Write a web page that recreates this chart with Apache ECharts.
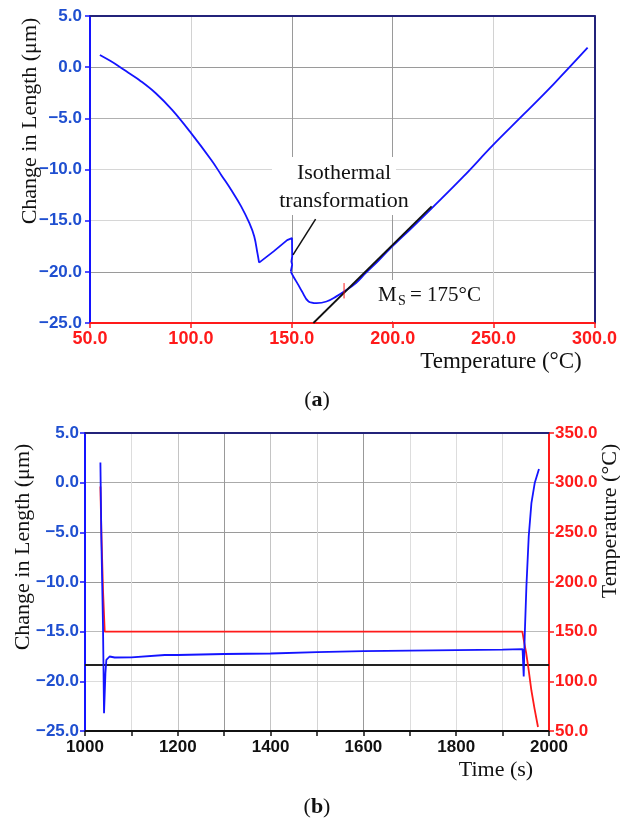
<!DOCTYPE html>
<html>
<head>
<meta charset="utf-8">
<script src="https://cdn.jsdelivr.net/npm/echarts@6/dist/echarts.min.js"></script>
<style>
html,body{margin:0;padding:0;background:#fff;}
#main{width:620px;height:821px;}
</style>
</head>
<body>
<div id="main"></div>
<script>
// (a) dilatometer curve: temperature vs change in length
var tempA = [54.9, 60, 64.6, 70, 74.4, 82.6, 90.7, 100.1, 110.2, 115.1, 120, 124.9, 129, 131.4, 133, 133.8, 141, 147.7, 150.1, 150.2, 149.8, 150.2, 149.5, 150.9, 153, 155, 158.3, 162.3, 167.2, 172.1, 176.1, 181.8, 186.7, 193, 198.1, 210, 219.3, 235, 249.8, 265, 280, 296.6];
var lenA = [1.19, 0.62, 0.05, -0.67, -1.25, -2.55, -4.18, -6.45, -9.1, -10.55, -12.0, -13.6, -15.25, -16.55, -18.2, -19.1, -18.0, -16.9, -16.7, -18.5, -19.0, -19.3, -19.97, -20.5, -21.2, -21.9, -22.9, -23.06, -22.9, -22.4, -21.9, -21.1, -20.1, -18.9, -17.85, -15.6, -13.8, -10.7, -7.6, -4.6, -1.6, 1.9];
// tangent line, leader line, Ms marker
var tanT = [160.7, 219.3];
var tanL = [-25, -13.6];
var leadT = [150.6, 161.8];
var leadL = [-18.35, -14.85];
var msT = [175.9, 175.9];
var msL = [-21.1, -22.6];

// (b) time series
var timeB = [1033.2, 1035.3, 1038.8, 1041, 1044, 1046, 1053, 1064, 1100, 1172, 1200, 1300, 1400, 1500, 1600, 1700, 1800, 1900, 1943, 1944.5, 1945.5, 1947.6, 1951.3, 1956.3, 1962.1, 1969.2, 1978.4];
var lenB = [2.04, -5.75, -14.5, -23.2, -19.2, -17.85, -17.5, -17.6, -17.58, -17.35, -17.35, -17.25, -17.2, -17.05, -16.95, -16.9, -16.85, -16.8, -16.75, -16.8, -19.5, -15.5, -10.46, -5.42, -2.06, -0.04, 1.37];
var timeR = [1033.2, 1035.3, 1038.8, 1042.5, 1100, 1500, 1942.6, 1947, 1951, 1956, 1962, 1969, 1976.3];
var tempR = [296.2, 249.2, 192, 150, 150, 150, 150, 138, 128, 112, 91, 72, 54];
var hT = [1000, 2000];
var hL = [-18.36, -18.36];

function zip(a, b, from, to){
	var out = [];
	from = from || 0;
	to = (to == null) ? a.length - 1 : to;
	for (var i = from; i <= to; i++) out.push([a[i], b[i]]);
	return out;
}
function fmt1(v){
	var s = v.toFixed(1);
	return s.charAt(0) == '-' ? '\u2212' + s.slice(1) : s;
}

var BLUE = '#1414ff', RED = '#ff1a1a', NAVY = '#23237a';
var LBLUE = '#1f4fd0';
var sans = '"Liberation Sans", Arial, sans-serif';
var serif = '"Liberation Serif", "Times New Roman", serif';

function lbl(color, size, margin, f){
	return {color:color, fontFamily:sans, fontWeight:'bold', fontSize:size, margin:margin, formatter:f};
}
function frame(gi, pos, mn, mx){
	return {gridIndex:gi, type:'value', position:pos, min:mn, max:mx,
		axisLine:{onZero:false, lineStyle:{color:NAVY, width:2}},
		axisTick:{show:false}, axisLabel:{show:false}, splitLine:{show:false}};
}
function txt(x, y, s, font, extra){
	var el = {type:'text', x:x, y:y, silent:true, z:10,
		style:{text:s, font:font, fill:'#111', align:'center', verticalAlign:'middle',
			textAlign:'center', textVerticalAlign:'middle'}};
	if (extra) for (var k in extra) el[k] = extra[k];
	return el;
}
function ln(name, xi, yi, data, color, w, smooth){
	return {name:name, type:'line', xAxisIndex:xi, yAxisIndex:yi, data:data, showSymbol:false,
		smooth:smooth || false, silent:true, animation:false,
		lineStyle:{color:color, width:w}, itemStyle:{color:color}, z:3};
}

var chart = echarts.init(document.getElementById('main'), null, {renderer:'canvas'});
var option = {
	backgroundColor:'#fff',
	animation:false,
	grid:[
		{left:90, top:16, width:512, height:307},
		{left:85, top:433, width:464, height:298}
	],
	xAxis:[
		{gridIndex:0, type:'value', min:50, max:300, interval:50,
			axisLine:{onZero:false, lineStyle:{color:RED, width:2}},
			axisTick:{show:true, length:5, lineStyle:{color:RED, width:1.5}},
			axisLabel:lbl(RED, 18, 7, fmt1),
			splitLine:{show:true, lineStyle:{width:1, color:['#ddd','#d2d2d2','#9a9a9a','#9a9a9a','#d2d2d2','#ddd']}}},
		frame(0, 'top', 50, 300),
		{gridIndex:1, type:'value', min:1000, max:2000, interval:100,
			axisLine:{onZero:false, lineStyle:{color:'#111', width:2}},
			axisTick:{show:true, length:5, lineStyle:{color:'#111', width:1.5}},
			axisLabel:lbl('#111', 17, 8, function(v){ return v % 200 == 0 ? String(v) : ''; }),
			splitLine:{show:true, lineStyle:{width:1, color:['#ddd','#ddd','#c4c4c4','#999','#c4c4c4','#d4d4d4','#999','#ddd','#ddd','#ddd','#ddd']}}},
		frame(1, 'top', 1000, 2000)
	],
	yAxis:[
		{gridIndex:0, type:'value', min:-25, max:5, interval:5,
			axisLine:{onZero:false, lineStyle:{color:BLUE, width:2}},
			axisTick:{show:true, length:5, lineStyle:{color:BLUE, width:1.5}},
			axisLabel:lbl(LBLUE, 17, 8, fmt1),
			splitLine:{show:true, lineStyle:{width:1, color:['#ddd','#9a9a9a','#d6d6d6','#d6d6d6','#b0b0b0','#9a9a9a','#ddd']}}},
		frame(0, 'right', -25, 5),
		{gridIndex:1, type:'value', min:-25, max:5, interval:5,
			axisLine:{onZero:false, lineStyle:{color:BLUE, width:2}},
			axisTick:{show:true, length:5, lineStyle:{color:BLUE, width:1.5}},
			axisLabel:lbl(LBLUE, 17, 6, fmt1),
			splitLine:{show:true, lineStyle:{width:1, color:['#ddd','#dcdcdc','#bbb','#9a9a9a','#9a9a9a','#aaa','#ddd']}}},
		{gridIndex:1, type:'value', position:'right', min:50, max:350, interval:50,
			axisLine:{onZero:false, lineStyle:{color:RED, width:2}},
			axisTick:{show:true, length:5, lineStyle:{color:RED, width:1.5}},
			axisLabel:lbl(RED, 17, 6, fmt1),
			splitLine:{show:false}}
	],
	series:[
		// the cooling curve is drawn in three pieces so the cusp and the isothermal drop stay sharp
		ln('lenA1', 0, 0, zip(tempA, lenA, 0, 15), BLUE, 1.8, 0.4),
		ln('lenA2', 0, 0, zip(tempA, lenA, 15, 22), BLUE, 1.8),
		ln('lenA3', 0, 0, zip(tempA, lenA, 22), BLUE, 1.8, 0.4),
		ln('tangent', 0, 0, zip(tanT, tanL), '#111', 1.8),
		ln('leader', 0, 0, zip(leadT, leadL), '#111', 1.5),
		ln('ms', 0, 0, zip(msT, msL), RED, 1),
		ln('hline', 2, 2, zip(hT, hL), '#222', 2),
		ln('tempB', 2, 3, zip(timeR, tempR), RED, 1.8),
		ln('lenB', 2, 2, zip(timeB, lenB), BLUE, 1.8)
	],
	graphic:[
		// white boxes behind the annotations hide the grid lines, as in the original
		{type:'rect', silent:true, z:5, shape:{x:272, y:157, width:124, height:58}, style:{fill:'#fff'}},
		{type:'rect', silent:true, z:5, shape:{x:376, y:280, width:108, height:41}, style:{fill:'#fff'}},
		txt(30, 121, 'Change in Length (\u03bcm)', '22px ' + serif, {rotation:Math.PI/2}),
		txt(344, 173, 'Isothermal', '22px ' + serif),
		txt(344, 201, 'transformation', '22px ' + serif),
		{type:'text', x:378, y:295, silent:true, z:10, style:{text:'M', font:'21px ' + serif, fill:'#111', align:'left', verticalAlign:'middle', textAlign:'left', textVerticalAlign:'middle'}},
		{type:'text', x:398, y:301, silent:true, z:10, style:{text:'S', font:'14px ' + serif, fill:'#111', align:'left', verticalAlign:'middle', textAlign:'left', textVerticalAlign:'middle'}},
		{type:'text', x:410, y:295, silent:true, z:10, style:{text:'= 175\u00b0C', font:'21px ' + serif, fill:'#111', align:'left', verticalAlign:'middle', textAlign:'left', textVerticalAlign:'middle'}},
		txt(501, 362, 'Temperature (\u00b0C)', '23px ' + serif),
		{type:'text', x:317, y:400, silent:true, style:{text:'({b|a})', font:'22px ' + serif, fill:'#111', align:'center', verticalAlign:'middle', textAlign:'center', textVerticalAlign:'middle',
			rich:{b:{fontFamily:serif, fontSize:22, fontWeight:'bold', fill:'#111', color:'#111'}}}},
		txt(23, 547, 'Change in Length (\u03bcm)', '22px ' + serif, {rotation:Math.PI/2}),
		txt(610, 521, 'Temperature (\u00b0C)', '22px ' + serif, {rotation:Math.PI/2}),
		txt(496, 770, 'Time (s)', '22px ' + serif),
		{type:'text', x:317, y:807, silent:true, style:{text:'({b|b})', font:'22px ' + serif, fill:'#111', align:'center', verticalAlign:'middle', textAlign:'center', textVerticalAlign:'middle',
			rich:{b:{fontFamily:serif, fontSize:22, fontWeight:'bold', fill:'#111', color:'#111'}}}}
	]
};
chart.setOption(option);
</script>
</body>
</html>
